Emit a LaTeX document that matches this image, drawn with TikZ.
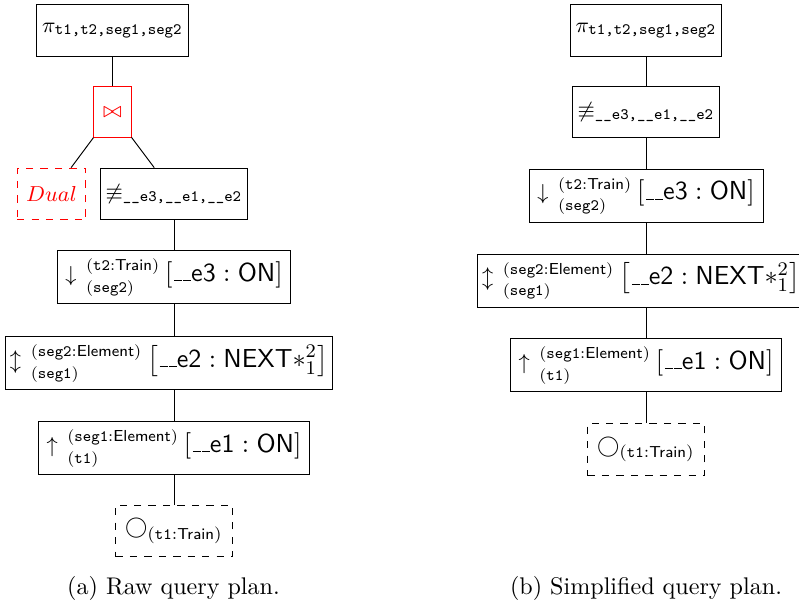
\documentclass[tikz,border=0pt]{standalone}
\usepackage{amssymb}
\usepackage{amsmath}
\usepackage{tikz}
\usetikzlibrary{positioning}

\DeclareMathSizes{9}{9}{6.6}{5}
\DeclareMathSizes{10.8}{10.8}{7.6}{5.4}
\newcommand{\usc}{\leavevmode\kern.06em\vbox{\hrule width.3em}}
\newcommand{\bigtxt}{\fontsize{10.8}{13}\selectfont}
\newcommand{\vars}[2]{\hspace{4pt}{\fontsize{6.6}{9}\selectfont\begin{tabular}{@{}l@{}}#1\\#2\end{tabular}}\hspace{2.5pt}}

\begin{document}
\begin{tikzpicture}[x=0.415pt, y=0.415pt,
    every node/.style={font=\fontsize{9}{11}\selectfont},
    opBox/.style={draw, inner xsep=2pt, inner ysep=2pt, minimum height=21.5pt},
    leafBox/.style={opBox, dashed},
    joinBox/.style={opBox, draw=red, text=red},
    captionText/.style={font=\fontsize{10}{12}\selectfont}]
    \useasboundingbox (0,0) rectangle (799,-606);

    \node[opBox, minimum width=62.7pt] (projA) at (112.5,-30.5) {$\pi_{\texttt{t1,t2,seg1,seg2}}$};
    \node[joinBox, minimum width=15.4pt] (joinA) at (112.5,-112) {$\bowtie$};
    \node[joinBox, dashed, minimum width=28.6pt] (dualA) at (51.5,-194) {$Dual$};
    \node[opBox, minimum width=58.9pt] (filterA) at (174,-194) {$\not\equiv_{\texttt{\_\_e3,\_\_e1,\_\_e2}}$};
    \node[opBox, minimum width=96.3pt] (expandDownA) at (174,-277) {$\downarrow$\vars{(\texttt{t2}:\textsf{Train})}{(\texttt{seg2})}{\bigtxt$\left[\textsf{\usc\usc e3}:\textsf{ON}\right]$}};
    \node[opBox, minimum width=133.6pt] (expandPathA) at (169,-363) {$\updownarrow$\vars{(\texttt{seg2}:\textsf{Element})}{(\texttt{seg1})}{\bigtxt$\left[\textsf{\usc\usc e2}:\textsf{NEXT}*^{2}_{1}\right]$}};
    \node[opBox, minimum width=112.5pt] (expandUpA) at (174,-448) {$\uparrow$\vars{(\texttt{seg1}:\textsf{Element})}{(\texttt{t1})}{\bigtxt$\left[\textsf{\usc\usc e1}:\textsf{ON}\right]$}};
    \node[leafBox, minimum width=48.6pt] (scanA) at (174,-531) {$\bigcirc_{(\texttt{t1}:\textsf{Train})}$};
    \node[captionText] (captionA) at (173.5,-588) {(a) Raw query plan.};

    \node[opBox, minimum width=62.7pt] (projB) at (646,-30.5) {$\pi_{\texttt{t1,t2,seg1,seg2}}$};
    \node[opBox, minimum width=58.9pt] (filterB) at (646,-112) {$\not\equiv_{\texttt{\_\_e3,\_\_e1,\_\_e2}}$};
    \node[opBox, minimum width=97.1pt] (expandDownB) at (646,-195.5) {$\downarrow$\vars{(\texttt{t2}:\textsf{Train})}{(\texttt{seg2})}{\bigtxt$\left[\textsf{\usc\usc e3}:\textsf{ON}\right]$}};
    \node[opBox, minimum width=133.6pt] (expandPathB) at (641,-280.5) {$\updownarrow$\vars{(\texttt{seg2}:\textsf{Element})}{(\texttt{seg1})}{\bigtxt$\left[\textsf{\usc\usc e2}:\textsf{NEXT}*^{2}_{1}\right]$}};
    \node[opBox, minimum width=112.5pt] (expandUpB) at (646,-365) {$\uparrow$\vars{(\texttt{seg1}:\textsf{Element})}{(\texttt{t1})}{\bigtxt$\left[\textsf{\usc\usc e1}:\textsf{ON}\right]$}};
    \node[leafBox, minimum width=48.6pt] (scanB) at (646,-449.5) {$\bigcirc_{(\texttt{t1}:\textsf{Train})}$};
    \node[captionText] (captionB) at (646,-588) {(b) Simplified query plan.};

\draw (projA) -- (joinA);
\draw (joinA) -- (dualA);
\draw (joinA) -- (filterA);
\draw (filterA) -- (expandDownA);
\draw (expandDownA) -- (expandDownA |- expandPathA.north);
\draw (expandPathA.south -| expandUpA) -- (expandUpA);
\draw (expandUpA) -- (scanA);

\draw (projB) -- (filterB);
\draw (filterB) -- (expandDownB);
\draw (expandDownB) -- (expandDownB |- expandPathB.north);
\draw (expandPathB.south -| expandUpB) -- (expandUpB);
\draw (expandUpB) -- (scanB);

\end{tikzpicture}
\end{document}
